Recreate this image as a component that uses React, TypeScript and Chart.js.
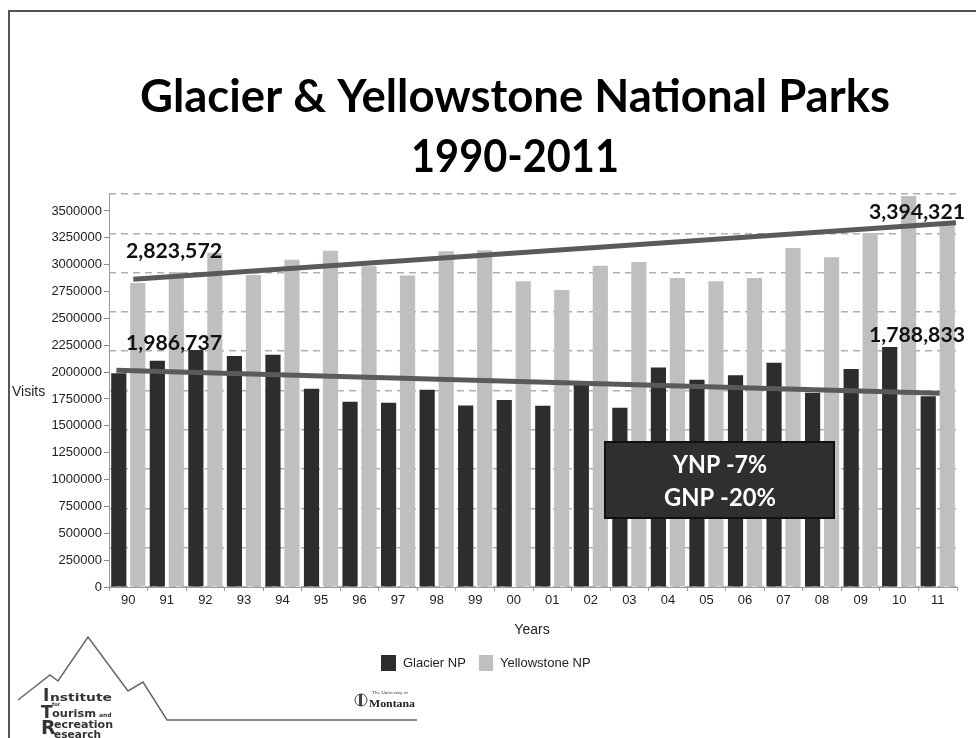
import React, { useEffect, useRef } from 'react';
import { Chart, registerables } from 'chart.js';

Chart.register(...registerables);

// ---------- data ----------
const years = ['90', '91', '92', '93', '94', '95', '96', '97', '98', '99', '00', '01', '02', '03', '04', '05', '06', '07', '08', '09', '10', '11'];
const glacierVisits = [1990000, 2105000, 2205000, 2150000, 2162000, 1845000, 1725000, 1715000, 1835000, 1690000, 1740000, 1688000, 1908000, 1668000, 2042000, 1930000, 1970000, 2088000, 1808000, 2030000, 2235000, 1775000];
const yellowstoneVisits = [2830000, 2930000, 3110000, 2905000, 3045000, 3130000, 2985000, 2900000, 3125000, 3135000, 2845000, 2765000, 2990000, 3025000, 2875000, 2845000, 2875000, 3155000, 3070000, 3295000, 3640000, 3394000];
// trend lines: x in year-index units (0 = 1990), y in visits
const yellowstoneTrend = [{ x: 0.13, y: 2864000 }, { x: 21.47, y: 3391000 }];
const glacierTrend = [{ x: -0.31, y: 2017000 }, { x: 21.05, y: 1803000 }];
const seriesNames = ['Glacier NP', 'Yellowstone NP'];
const valueLabels = ['2,823,572', '1,986,737', '3,394,321', '1,788,833'];
const boxLines = ['YNP -7%', 'GNP -20%'];
const titleLines = ['Glacier & Yellowstone National Parks', '1990-2011'];
const yTickValues = [0, 250000, 500000, 750000, 1000000, 1250000, 1500000, 1750000, 2000000, 2250000, 2500000, 2750000, 3000000, 3250000, 3500000];
const yMax = 3658000;
const gridDivisions = 10;

const DARK = '#2d2d2d';
const LIGHT = '#bfbfbf';
const TREND = '#5a5a5a';
const SANS = '"Liberation Sans", Arial, sans-serif';
const HUMAN = 'Lato, "Open Sans", sans-serif';

function drawText(ctx: CanvasRenderingContext2D, text: string, x: number, y: number, font: string, color: string, align: CanvasTextAlign, width?: number) {
  ctx.save();
  ctx.font = font;
  ctx.fillStyle = color;
  ctx.textBaseline = 'alphabetic';
  ctx.textAlign = align;
  const w = ctx.measureText(text).width;
  const s = width ? width / w : 1;
  ctx.translate(x, y);
  ctx.scale(s, 1);
  ctx.fillText(text, 0, 0);
  ctx.restore();
}

const decor = {
  id: 'decor',
  beforeDraw(chart: any) {
    const ctx = chart.ctx;
    ctx.save();
    ctx.fillStyle = '#ffffff';
    ctx.fillRect(0, 0, chart.width, chart.height);
    ctx.restore();
  },
  afterDatasetsDraw(chart: any) {
    const ctx: CanvasRenderingContext2D = chart.ctx;
    const f = `bold 21px ${HUMAN}`;
    drawText(ctx, valueLabels[0], 126, 258, f, '#111', 'left', 96);
    drawText(ctx, valueLabels[1], 126, 349.5, f, '#111', 'left', 96);
    drawText(ctx, valueLabels[2], 965, 218.5, f, '#111', 'right', 96);
    drawText(ctx, valueLabels[3], 965, 341.5, f, '#111', 'right', 96);
    ctx.save();
    ctx.fillStyle = '#2f2f2f';
    ctx.fillRect(605, 442, 229, 76);
    ctx.strokeStyle = '#111';
    ctx.lineWidth = 2;
    ctx.strokeRect(605, 442, 229, 76);
    ctx.restore();
    drawText(ctx, boxLines[0], 720, 473, `bold 24px ${HUMAN}`, '#ffffff', 'center', 94);
    drawText(ctx, boxLines[1], 720, 506, `bold 24px ${HUMAN}`, '#ffffff', 'center', 112);
  },
  afterDraw(chart: any) {
    const ctx: CanvasRenderingContext2D = chart.ctx;
    ctx.save();
    ctx.strokeStyle = '#555';
    ctx.lineWidth = 2;
    ctx.beginPath();
    ctx.moveTo(9, 738);
    ctx.lineTo(9, 11);
    ctx.lineTo(976, 11);
    ctx.stroke();
    ctx.restore();
    drawText(ctx, titleLines[0], 515, 112, `bold 46px ${HUMAN}`, '#000', 'center', 750);
    drawText(ctx, titleLines[1], 515, 172, `bold 46px ${HUMAN}`, '#000', 'center', 208);
    ctx.save();
    ctx.font = `14px ${SANS}`;
    ctx.fillStyle = '#222';
    ctx.textBaseline = 'middle';
    ctx.textAlign = 'center';
    ctx.fillText('Years', 532, 630);
    ctx.textAlign = 'left';
    ctx.fillText('Visits', 12, 392);
    ctx.fillStyle = DARK;
    ctx.fillRect(381, 655, 15, 16);
    ctx.fillStyle = LIGHT;
    ctx.fillRect(479, 655, 14, 16);
    ctx.font = `13px ${SANS}`;
    ctx.fillStyle = '#222';
    ctx.fillText(seriesNames[0], 403, 663);
    ctx.fillText(seriesNames[1], 500, 663);
    ctx.restore();
    ctx.save();
    ctx.strokeStyle = '#666';
    ctx.lineWidth = 1.5;
    ctx.beginPath();
    const pts = [[18, 700], [50, 675], [58, 681], [88, 637], [128, 691], [143, 682], [167, 720], [417, 720]];
    pts.forEach(([px, py], i) => (i === 0 ? ctx.moveTo(px, py) : ctx.lineTo(px, py)));
    ctx.stroke();
    ctx.restore();
    const lb = (s: number) => `900 ${s}px "DejaVu Sans", ${SANS}`;
    drawText(ctx, 'I', 43, 701, lb(17), '#333', 'left');
    drawText(ctx, 'nstitute', 50, 701, lb(11), '#333', 'left', 62);
    drawText(ctx, 'for', 52, 706, lb(5), '#333', 'left');
    drawText(ctx, 'T', 41, 718, lb(17), '#333', 'left');
    drawText(ctx, 'ourism', 52, 717, lb(11), '#333', 'left', 44);
    drawText(ctx, 'and', 99, 717, lb(6), '#333', 'left');
    drawText(ctx, 'R', 41, 734, lb(19), '#333', 'left');
    drawText(ctx, 'ecreation', 54, 728, lb(11), '#333', 'left', 59);
    drawText(ctx, 'esearch', 54, 738, lb(11), '#333', 'left', 47);
    ctx.save();
    ctx.beginPath();
    ctx.arc(361, 700, 6, 0, Math.PI * 2);
    ctx.lineWidth = 1;
    ctx.strokeStyle = '#444';
    ctx.stroke();
    ctx.fillStyle = '#444';
    ctx.fillRect(359, 694, 3, 12);
    ctx.restore();
    drawText(ctx, 'The University of', 372, 694, `5px "Liberation Serif", serif`, '#333', 'left', 36);
    drawText(ctx, 'Montana', 369, 707, `bold 11px "Liberation Serif", serif`, '#222', 'left', 46);
  },
};

export default function App() {
  const ref = useRef<HTMLCanvasElement | null>(null);
  useEffect(() => {
    if (!ref.current) return;
    const trendStyle = {
      type: 'line',
      borderColor: TREND,
      borderWidth: 5,
      pointRadius: 0,
      borderCapStyle: 'butt',
      order: 0,
    };
    const barStyle = {
      type: 'bar',
      borderWidth: 0,
      barPercentage: 0.8,
      categoryPercentage: 0.985,
      order: 1,
    };
    const chart = new Chart(ref.current, {
      type: 'bar',
      data: {
        datasets: [
          { ...trendStyle, label: 'YNP trend', data: yellowstoneTrend } as any,
          { ...trendStyle, label: 'GNP trend', data: glacierTrend } as any,
          { ...barStyle, label: seriesNames[0], backgroundColor: DARK, data: glacierVisits.map((v, i) => ({ x: i, y: v })) } as any,
          { ...barStyle, label: seriesNames[1], backgroundColor: LIGHT, data: yellowstoneVisits.map((v, i) => ({ x: i, y: v })) } as any,
        ],
      },
      options: {
        responsive: false,
        animation: false,
        layout: { padding: { top: 194, right: 19, left: 0, bottom: 0 } },
        plugins: { legend: { display: false }, tooltip: { enabled: false }, title: { display: false } },
        scales: {
          x: {
            type: 'linear',
            position: 'bottom',
            min: -0.5,
            max: years.length - 0.5,
            offset: false,
            afterBuildTicks: (s: any) => { s.ticks = years.map((_, i) => ({ value: i })); },
            grid: { offset: true, drawOnChartArea: false, drawTicks: true, tickLength: 4, color: '#999' },
            border: { display: true, color: '#999' },
            ticks: {
              autoSkip: false,
              maxRotation: 0,
              padding: 2,
              color: '#222',
              font: { family: SANS, size: 13 },
              callback: (v: any) => years[Math.round(v)] ?? '',
            },
            afterFit: (s: any) => { s.height = 151; },
          },
          y: {
            type: 'linear',
            position: 'left',
            min: 0,
            max: yMax,
            ticks: {
              autoSkip: false,
              padding: 2,
              color: '#222',
              font: { family: SANS, size: 13 },
              callback: (v: any) => String(v),
            },
            afterBuildTicks: (s: any) => { s.ticks = yTickValues.map((v) => ({ value: v })); },
            grid: { drawOnChartArea: false, drawTicks: true, tickLength: 5, color: '#888' },
            border: { display: true, color: '#999' },
            afterFit: (s: any) => { s.width = 109; },
          },
          yGrid: {
            type: 'linear',
            position: 'left',
            min: 0,
            max: gridDivisions,
            ticks: { stepSize: 1, display: false },
            grid: { drawTicks: false, color: '#b0b0b0', lineWidth: 1.5 },
            border: { display: false, dash: [7, 5] },
            afterFit: (s: any) => { s.width = 0; },
          },
        } as any,
      },
      plugins: [decor],
    });
    let alive = true;
    if ((document as any).fonts) {
      Promise.all([
        (document as any).fonts.load(`bold 46px Lato`),
        (document as any).fonts.load(`13px "Liberation Sans"`),
        (document as any).fonts.load(`900 11px "DejaVu Sans"`),
      ]).then(() => { if (alive) chart.draw(); }).catch(() => {});
    }
    return () => { alive = false; chart.destroy(); };
  }, []);
  return (
    <div style={{ position: 'fixed', left: 0, top: 0, width: 976, height: 738, background: '#fff' }}>
      <canvas ref={ref} width={976} height={738} style={{ display: 'block' }} />
    </div>
  );
}
